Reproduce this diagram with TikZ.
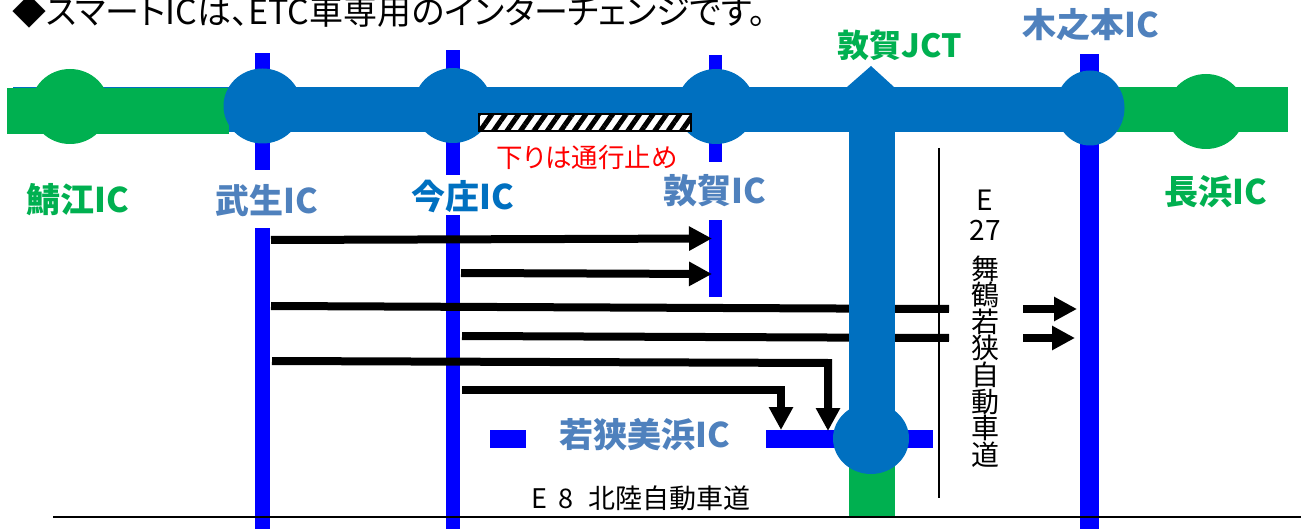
\documentclass[tikz,border=0pt]{standalone}
\usepackage{fontspec}
\setmainfont{Noto Sans CJK JP}[RawFeature=+palt]
\usepackage{tikz}
\usetikzlibrary{shapes.geometric}
\usetikzlibrary{arrows.meta,patterns.meta}
\definecolor{roadblue}{HTML}{0070C0}
\definecolor{roadgreen}{HTML}{00B050}
\definecolor{icblue}{HTML}{4F81BD}
\definecolor{barblue}{HTML}{0000FF}
\tikzstyle{ic} = [ellipse, fill=roadblue, inner sep=0pt, outer sep=0pt, minimum width=78pt, minimum height=75pt]
\tikzstyle{icgreen} = [ic, fill=roadgreen]
\tikzstyle{label} = [font=\fontsize{34}{36}\selectfont\bfseries, inner sep=0pt]
\tikzstyle{road} = [font=\fontsize{28}{26.6}\selectfont, inner sep=0pt, align=center]
\tikzstyle{line} = [draw, line width=8pt, line join=miter]
\tikzstyle{tip} = [line, -{Triangle[length=23pt,width=23pt]}]

\begin{document}
\begin{tikzpicture}[x=1pt,y=-1pt]
    \useasboundingbox (0,0) rectangle (1301,529);
    % Place roads
    \fill [barblue] (255,53) rectangle (270,170);
    \fill [barblue] (255,228) rectangle (270,529);
    \fill [barblue] (446,50) rectangle (460,175);
    \fill [barblue] (446,215) rectangle (460,529);
    \fill [barblue] (709,55) rectangle (722,162);
    \fill [barblue] (709,220) rectangle (722,297);
    \fill [barblue] (1080,54) rectangle (1099,529);
    \fill [barblue] (490,430) rectangle (526,448);
    \fill [barblue] (766,430) rectangle (933,448);
    \fill [roadblue] (13,87) rectangle (1287,132.5);
    \fill [roadgreen] (7,88) rectangle (229,134);
    \fill [roadgreen] (1115,87) rectangle (1288,132);
    \fill [roadblue] (847,87) -- (871,66) -- (894,87) -- cycle;
    \draw [line width=1.5pt] (939,148) -- (939,498);
    % Place nodes
    \node [icgreen] (sabae) at (70,106.5) {};
    \node [icgreen] (nagahama) at (1206,111.5) {};
    \node [ic] (takefu) at (262.5,106) {};
    \node [ic] (imajo) at (453,105.5) {};
    \node [ic] (tsuruga) at (716,106.5) {};
    \node [ic, minimum width=69pt] (kinomoto) at (1090,108) {};
    % Place arrow ends
    \coordinate (a1) at (271,240);
    \coordinate (a2) at (712,238.5);
    \coordinate (b1) at (461,273);
    \coordinate (b2) at (712,274);
    \coordinate (c1) at (271,306);
    \coordinate (c2) at (949,309);
    \coordinate (c3) at (1023,309);
    \coordinate (c4) at (1077,309);
    \coordinate (d1) at (462,336);
    \coordinate (d2) at (949,338);
    \coordinate (d3) at (1023,338);
    \coordinate (d4) at (1075,338);
    \coordinate (e1) at (272,361);
    \coordinate (e2) at (828,363);
    \coordinate (e3) at (828,431);
    \coordinate (f1) at (462,390);
    \coordinate (f2) at (781,390);
    \coordinate (f3) at (781,430);
    % Draw edges
    \path [tip] (a1) -- (a2);
    \path [tip] (b1) -- (b2);
    \path [line] (c1) -- (c2);
    \path [tip] (c3) -- (c4);
    \path [line] (d1) -- (d2);
    \path [tip] (d3) -- (d4);
    \path [tip] (e1) -- (e2) -- (e3);
    \path [tip] (f1) -- (f2) -- (f3);
    % Draw junction over the edges
    \fill [roadgreen] (849,430) rectangle (895,516);
    \fill [roadblue] (849,132) rectangle (895,430);
    \node [ic, minimum height=71pt, minimum width=76pt] (mihama) at (871,438.5) {};
    \draw [line width=2pt] (53,517) -- (1301,517);
    % Closed section
    \node [draw=black, line width=2pt, inner sep=0pt, outer sep=0pt, minimum width=212pt, minimum height=17pt,
        preaction={fill=white}, pattern={Lines[angle=55,distance=11pt,line width=5pt]}, pattern color=black] (closed) at (585,122.5) {};
    % Place labels
    \node [anchor=base west, inner sep=0pt, font=\fontsize{34}{36}\selectfont] (title) at (12,25) {◆スマートICは、ETC車専用のインターチェンジです。};
    \node [label, text=roadgreen] (sabaelabel) at (78,200) {鯖江IC};
    \node [label, text=icblue] (takefulabel) at (267,201) {武生IC};
    \node [label, text=roadblue] (imajolabel) at (463,196) {今庄IC};
    \node [label, text=icblue] (tsurugalabel) at (715,191) {敦賀IC};
    \node [label, text=roadgreen, font=\fontsize{32}{36}\selectfont\bfseries] (jctlabel) at (900,45) {敦賀JCT};
    \node [label, text=icblue] (kinomotolabel) at (1091,25) {木之本IC};
    \node [label, text=roadgreen] (nagahamalabel) at (1216,192) {長浜IC};
    \node [label, text=icblue] (mihamalabel) at (645,435) {若狭美浜IC};
    \node [inner sep=0pt, text=red, font=\fontsize{26.5}{28}\selectfont] (closedlabel) at (587,157) {下りは通行止め};
    \node [road] (e27) at (985,215) {E\\[3pt]27};
    \node [road] (maizuru) at (985,361.5) {舞\\鶴\\若\\狭\\自\\動\\車\\道};
    \node [road, font=\fontsize{27}{28}\selectfont] (hokuriku) at (641,498) {E\, 8\,\, 北陸自動車道};
\end{tikzpicture}
\end{document}
